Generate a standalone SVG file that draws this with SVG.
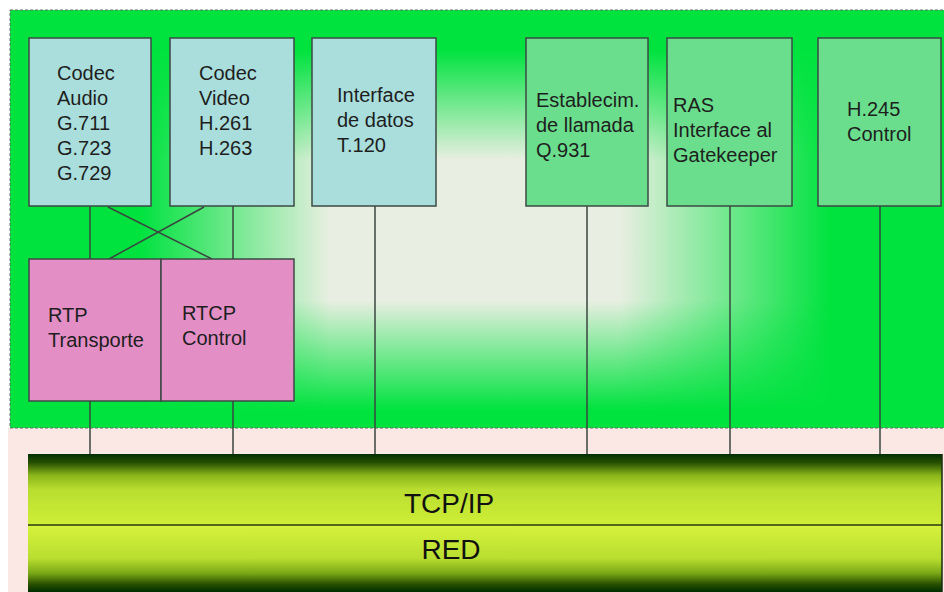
<svg xmlns="http://www.w3.org/2000/svg" width="944" height="592" viewBox="0 0 944 592">
<defs>
<linearGradient id="hGrad" gradientUnits="userSpaceOnUse" x1="10" y1="0" x2="944" y2="0">
<stop offset="0.139" stop-color="#000"/>
<stop offset="0.343" stop-color="#fff"/>
<stop offset="0.653" stop-color="#fff"/>
<stop offset="0.878" stop-color="#000"/>
</linearGradient>
<linearGradient id="vGrad" gradientUnits="userSpaceOnUse" x1="0" y1="10" x2="0" y2="428">
<stop offset="0.096" stop-color="#e9eee2" stop-opacity="0"/>
<stop offset="0.359" stop-color="#e9eee2" stop-opacity="1"/>
<stop offset="0.694" stop-color="#e9eee2" stop-opacity="1"/>
<stop offset="0.957" stop-color="#e9eee2" stop-opacity="0"/>
</linearGradient>
<mask id="hMask" maskUnits="userSpaceOnUse" x="0" y="0" width="944" height="592">
<rect x="10" y="10" width="934" height="418" fill="url(#hGrad)"/>
</mask>
<linearGradient id="tcpGrad" x1="0" y1="0" x2="0" y2="1">
<stop offset="0" stop-color="#002e00"/>
<stop offset="0.12" stop-color="#264f00"/>
<stop offset="0.3" stop-color="#8ab51a"/>
<stop offset="0.5" stop-color="#b9de30"/>
<stop offset="1" stop-color="#cfee36"/>
</linearGradient>
<linearGradient id="redGrad" x1="0" y1="0" x2="0" y2="1">
<stop offset="0" stop-color="#d6f23c"/>
<stop offset="0.5" stop-color="#b9de30"/>
<stop offset="0.72" stop-color="#7aa816"/>
<stop offset="0.88" stop-color="#2a5200"/>
<stop offset="1" stop-color="#002e00"/>
</linearGradient>
<style>
.box{stroke:#3d4a44;stroke-width:1.5}
.cyan{fill:#a9dedd}
.green{fill:#6ade8d}
.pink{fill:#e38fc6}
.lbl{font-family:"Liberation Sans",Arial,sans-serif;font-size:20px;fill:#1e1e1e}
.big{font-family:"Liberation Sans",Arial,sans-serif;font-size:28px;fill:#111;text-anchor:middle}
.conn{stroke:#3a4640;stroke-width:1.5;fill:none}
</style>
</defs>
<rect x="0" y="0" width="944" height="592" fill="#ffffff"/>
<rect x="8" y="428" width="936" height="164" fill="#fbe8e4"/>
<rect x="10" y="10" width="940" height="418" fill="#00e33f"/>
<rect x="10" y="10" width="934" height="418" fill="url(#vGrad)" mask="url(#hMask)"/>
<rect x="10" y="10" width="940" height="418" fill="none" stroke="#6a6a6a" stroke-width="1" stroke-dasharray="3 2"/>

<g id="connectors">
<line class="conn" x1="90" y1="206" x2="90" y2="259"/>
<line class="conn" x1="233" y1="206" x2="233" y2="259"/>
<line class="conn" x1="108" y1="207" x2="212" y2="259"/>
<line class="conn" x1="204" y1="207" x2="109" y2="259"/>
<line class="conn" x1="90" y1="401" x2="90" y2="455"/>
<line class="conn" x1="233" y1="401" x2="233" y2="455"/>
<line class="conn" x1="375" y1="206" x2="375" y2="455"/>
<line class="conn" x1="587" y1="206" x2="587" y2="455"/>
<line class="conn" x1="730" y1="206" x2="730" y2="455"/>
<line class="conn" x1="880" y1="206" x2="880" y2="455"/>
</g>

<g id="codec-audio">
<rect class="box cyan" x="29" y="38" width="122" height="168"/>
<text class="lbl" x="57" y="80">Codec</text>
<text class="lbl" x="57" y="105">Audio</text>
<text class="lbl" x="57" y="130">G.711</text>
<text class="lbl" x="57" y="155">G.723</text>
<text class="lbl" x="57" y="180">G.729</text>
</g>
<g id="codec-video">
<rect class="box cyan" x="170" y="38" width="124" height="168"/>
<text class="lbl" x="199" y="80">Codec</text>
<text class="lbl" x="199" y="105">Video</text>
<text class="lbl" x="199" y="130">H.261</text>
<text class="lbl" x="199" y="155">H.263</text>
</g>
<g id="interface-datos">
<rect class="box cyan" x="312" y="38" width="124" height="168"/>
<text class="lbl" x="337" y="102">Interface</text>
<text class="lbl" x="337" y="127">de datos</text>
<text class="lbl" x="337" y="152">T.120</text>
</g>
<g id="establecim">
<rect class="box green" x="526" y="38" width="122" height="168"/>
<text class="lbl" x="536" y="107">Establecim.</text>
<text class="lbl" x="536" y="132">de llamada</text>
<text class="lbl" x="536" y="157">Q.931</text>
</g>
<g id="ras">
<rect class="box green" x="667" y="38" width="125" height="168"/>
<text class="lbl" x="673" y="112">RAS</text>
<text class="lbl" x="673" y="137">Interface al</text>
<text class="lbl" x="673" y="162">Gatekeeper</text>
</g>
<g id="h245">
<rect class="box green" x="818" y="38" width="123" height="168"/>
<text class="lbl" x="847" y="116">H.245</text>
<text class="lbl" x="847" y="141">Control</text>
</g>
<g id="rtp">
<rect class="box pink" x="29" y="259" width="132" height="142"/>
<text class="lbl" x="48" y="322">RTP</text>
<text class="lbl" x="48" y="347">Transporte</text>
</g>
<g id="rtcp">
<rect class="box pink" x="161" y="259" width="133" height="142"/>
<text class="lbl" x="182" y="320">RTCP</text>
<text class="lbl" x="182" y="345">Control</text>
</g>
<g id="tcpip">
<rect x="28" y="454" width="914" height="71" fill="url(#tcpGrad)"/>
<text class="big" x="449" y="513">TCP/IP</text>
</g>
<g id="red">
<rect x="28" y="525" width="914" height="67" fill="url(#redGrad)"/>
<text class="big" x="451" y="559">RED</text>
</g>
<line x1="28" y1="525" x2="942" y2="525" stroke="#2a3a10" stroke-width="1.5"/>
<line x1="942" y1="454" x2="942" y2="592" stroke="#1a2a10" stroke-width="1.5"/>
</svg>
